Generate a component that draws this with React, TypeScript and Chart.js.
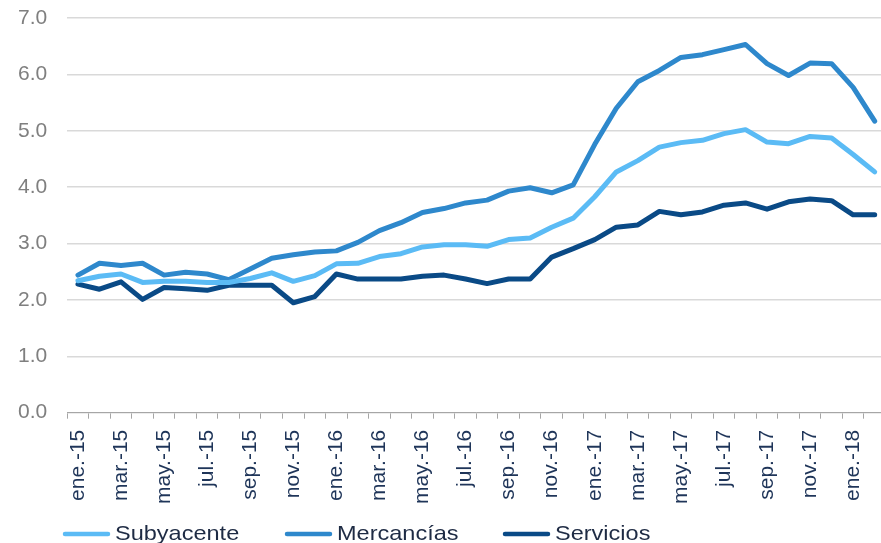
import React, { useEffect, useRef } from "react";
import { Chart, registerables } from "chart.js";

Chart.register(...registerables);

const categories = [
  "ene.-15", "feb.-15", "mar.-15", "abr.-15", "may.-15", "jun.-15", "jul.-15", "ago.-15", "sep.-15", "oct.-15", "nov.-15", "dic.-15",
  "ene.-16", "feb.-16", "mar.-16", "abr.-16", "may.-16", "jun.-16", "jul.-16", "ago.-16", "sep.-16", "oct.-16", "nov.-16", "dic.-16",
  "ene.-17", "feb.-17", "mar.-17", "abr.-17", "may.-17", "jun.-17", "jul.-17", "ago.-17", "sep.-17", "oct.-17", "nov.-17", "dic.-17",
  "ene.-18", "feb.-18",
];

const subyacente = [
  2.34, 2.42, 2.46, 2.31, 2.33, 2.33, 2.31, 2.31, 2.38, 2.48, 2.33, 2.43,
  2.64, 2.65, 2.77, 2.82, 2.94, 2.98, 2.98, 2.95, 3.07, 3.10, 3.29, 3.45,
  3.83, 4.27, 4.47, 4.71, 4.79, 4.83, 4.95, 5.02, 4.80, 4.77, 4.90, 4.87,
  4.58, 4.27,
];

const mercancias = [
  2.44, 2.65, 2.61, 2.65, 2.44, 2.49, 2.46, 2.36, 2.55, 2.74, 2.80, 2.85,
  2.87, 3.02, 3.23, 3.37, 3.55, 3.62, 3.72, 3.77, 3.93, 3.99, 3.90, 4.04,
  4.76, 5.40, 5.87, 6.07, 6.30, 6.35, 6.44, 6.53, 6.19, 5.98, 6.20, 6.19,
  5.77, 5.17,
];

const servicios = [
  2.28, 2.19, 2.32, 2.01, 2.22, 2.20, 2.17, 2.26, 2.26, 2.26, 1.95, 2.06,
  2.46, 2.37, 2.37, 2.37, 2.42, 2.44, 2.37, 2.29, 2.37, 2.37, 2.76, 2.91,
  3.07, 3.29, 3.33, 3.57, 3.51, 3.56, 3.68, 3.72, 3.61, 3.74, 3.79, 3.76,
  3.51, 3.51,
];

const seriesNames = ["Subyacente", "Mercancías", "Servicios"];
const seriesColors = ["#5BBBF5", "#2E88CC", "#0A4A86"];
const yTicks = [0, 1, 2, 3, 4, 5, 6, 7];

const FONT = "'Liberation Sans', Arial, sans-serif";

const legendPlugin = {
  id: "customLegend",
  afterDraw(chart: any) {
    const ctx = chart.ctx;
    const starts = [63, 285, 503];
    const y = 534;
    ctx.save();
    chart.data.datasets.forEach((ds: any, i: number) => {
      const x = starts[i];
      ctx.strokeStyle = ds.borderColor;
      ctx.lineWidth = 4.5;
      ctx.lineCap = "round";
      ctx.beginPath();
      ctx.moveTo(x + 2, y);
      ctx.lineTo(x + 45, y);
      ctx.stroke();
      ctx.fillStyle = "#1E2B44";
      ctx.font = `21px ${FONT}`;
      ctx.textBaseline = "middle";
      ctx.textAlign = "left";
      ctx.save();
      ctx.translate(x + 52, y);
      ctx.scale(1.12, 1);
      ctx.fillText(ds.label, 0, 0);
      ctx.restore();
    });
    ctx.restore();
  },
};

export default function App() {
  const ref = useRef<HTMLCanvasElement>(null);

  useEffect(() => {
    if (!ref.current) return;
    const datasets = [subyacente, mercancias, servicios].map((d, i) => ({
      label: seriesNames[i],
      data: d,
      borderColor: seriesColors[i],
      backgroundColor: seriesColors[i],
      borderWidth: 5,
      pointRadius: 0,
      tension: 0,
      borderJoinStyle: "round" as const,
      borderCapStyle: "round" as const,
      fill: false,
    }));
    const chart = new Chart(ref.current, {
      type: "line",
      data: { labels: categories, datasets },
      options: {
        responsive: false,
        animation: false,
        devicePixelRatio: 1,
        layout: { padding: { left: 13, right: 8, top: 18, bottom: 28 } },
        plugins: {
          legend: { display: false },
          tooltip: { enabled: false },
        },
        scales: {
          x: {
            type: "category",
            offset: true,
            grid: {
              display: true,
              offset: true,
              drawOnChartArea: false,
              drawTicks: true,
              tickLength: 6,
              color: "#A6A6A6",
            },
            border: { display: true, color: "#A6A6A6", width: 1 },
            ticks: {
              autoSkip: false,
              minRotation: 90,
              maxRotation: 90,
              padding: 11,
              color: "#1F3559",
              font: { family: FONT, size: 21 },
              callback: (_v: any, i: number) => (i % 2 === 0 ? categories[i] : ""),
            },
          },
          y: {
            min: yTicks[0],
            max: yTicks[yTicks.length - 1],
            afterBuildTicks: (scale: any) => {
              scale.ticks = yTicks.map((v) => ({ value: v }));
            },
            grid: {
              color: "#D9D9D9",
              lineWidth: 1.5,
              drawTicks: true,
              tickLength: 15,
              tickColor: "rgba(0,0,0,0)",
            },
            border: { display: false },
            ticks: {
              padding: 5,
              color: "#7F7F7F",
              font: { family: FONT, size: 21 },
              callback: (v: any) => Number(v).toFixed(1),
            },
          },
        },
      },
      plugins: [legendPlugin],
    });
    return () => chart.destroy();
  }, []);

  return (
    <div
      style={{
        position: "fixed",
        left: 0,
        top: 0,
        width: 881,
        height: 543,
        overflow: "hidden",
        background: "#fff",
      }}
    >
      <canvas ref={ref} width={911} height={543} style={{ width: 911, height: 543, display: "block" }} />
    </div>
  );
}
